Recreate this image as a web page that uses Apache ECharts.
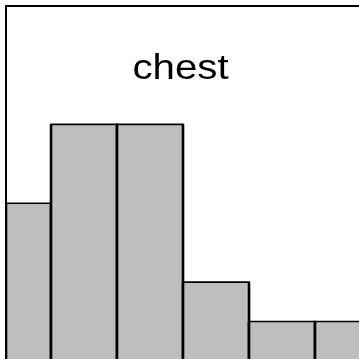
<!DOCTYPE html>
<html>
<head>
<meta charset="utf-8">
<script src="https://cdn.jsdelivr.net/npm/echarts@6/dist/echarts.min.js"></script>
<style>
  html, body { margin: 0; padding: 0; background: #ffffff; }
  #chart { width: 359px; height: 359px; }
</style>
</head>
<body>
<div id="chart"></div>
<script>
// Histogram bins (in bin units) and their counts
var binStarts = [0, 1, 2, 3, 4, 5];
var binEnds = [1, 2, 3, 4, 5, 6];
var counts = [4, 6, 6, 2, 1, 1];
var panelTitle = 'chest';

var chart = echarts.init(document.getElementById('chart'), null, { renderer: 'canvas' });

var data = binStarts.map(function (s, i) { return [s, binEnds[i], counts[i]]; });

chart.setOption({
  animation: false,
  grid: {
    left: 6, top: 6, width: 375, height: 355,
    outerBoundsMode: 'none',
    containLabel: false,
    show: true, borderColor: '#000000', borderWidth: 2, backgroundColor: 'transparent'
  },
  xAxis: {
    type: 'value', min: 0.318, max: 6,
    axisLine: { show: false }, axisTick: { show: false },
    axisLabel: { show: false }, splitLine: { show: false }
  },
  yAxis: {
    type: 'value', min: 0, max: 9,
    axisLine: { show: false }, axisTick: { show: false },
    axisLabel: { show: false }, splitLine: { show: false }
  },
  series: [{
    type: 'custom',
    clip: true,
    data: data,
    encode: { x: [0, 1], y: 2 },
    renderItem: function (params, api) {
      var p0 = api.coord([api.value(0), api.value(2)]);
      var p1 = api.coord([api.value(1), 0]);
      var cs = params.coordSys;
      var rect = echarts.graphic.clipRectByRect(
        { x: p0[0], y: p0[1], width: p1[0] - p0[0], height: p1[1] - p0[1] },
        { x: cs.x, y: cs.y, width: cs.width, height: cs.height }
      );
      if (!rect) return;
      var left = rect.x, right = rect.x + rect.width;
      var top = rect.y, bottom = rect.y + rect.height;
      return {
        type: 'group',
        children: [
          { type: 'rect', shape: rect, style: { fill: '#bebebe', stroke: '#000000', lineWidth: 1.6 } },
          { type: 'line', shape: { x1: left, y1: top, x2: left, y2: bottom }, style: { stroke: '#000000', lineWidth: 2.6 } },
          { type: 'line', shape: { x1: right, y1: top, x2: right, y2: bottom }, style: { stroke: '#000000', lineWidth: 2.6 } }
        ]
      };
    }
  }],
  graphic: [{
    type: 'text',
    x: 180.5,
    y: 51.5,
    scaleX: 1.15,
    z: 10,
    style: {
      text: panelTitle,
      x: 0,
      y: 0,
      fill: '#000000',
      align: 'center',
      verticalAlign: 'top',
      font: '35px "Liberation Sans", Arial, sans-serif'
    }
  }]
});
</script>
</body>
</html>
